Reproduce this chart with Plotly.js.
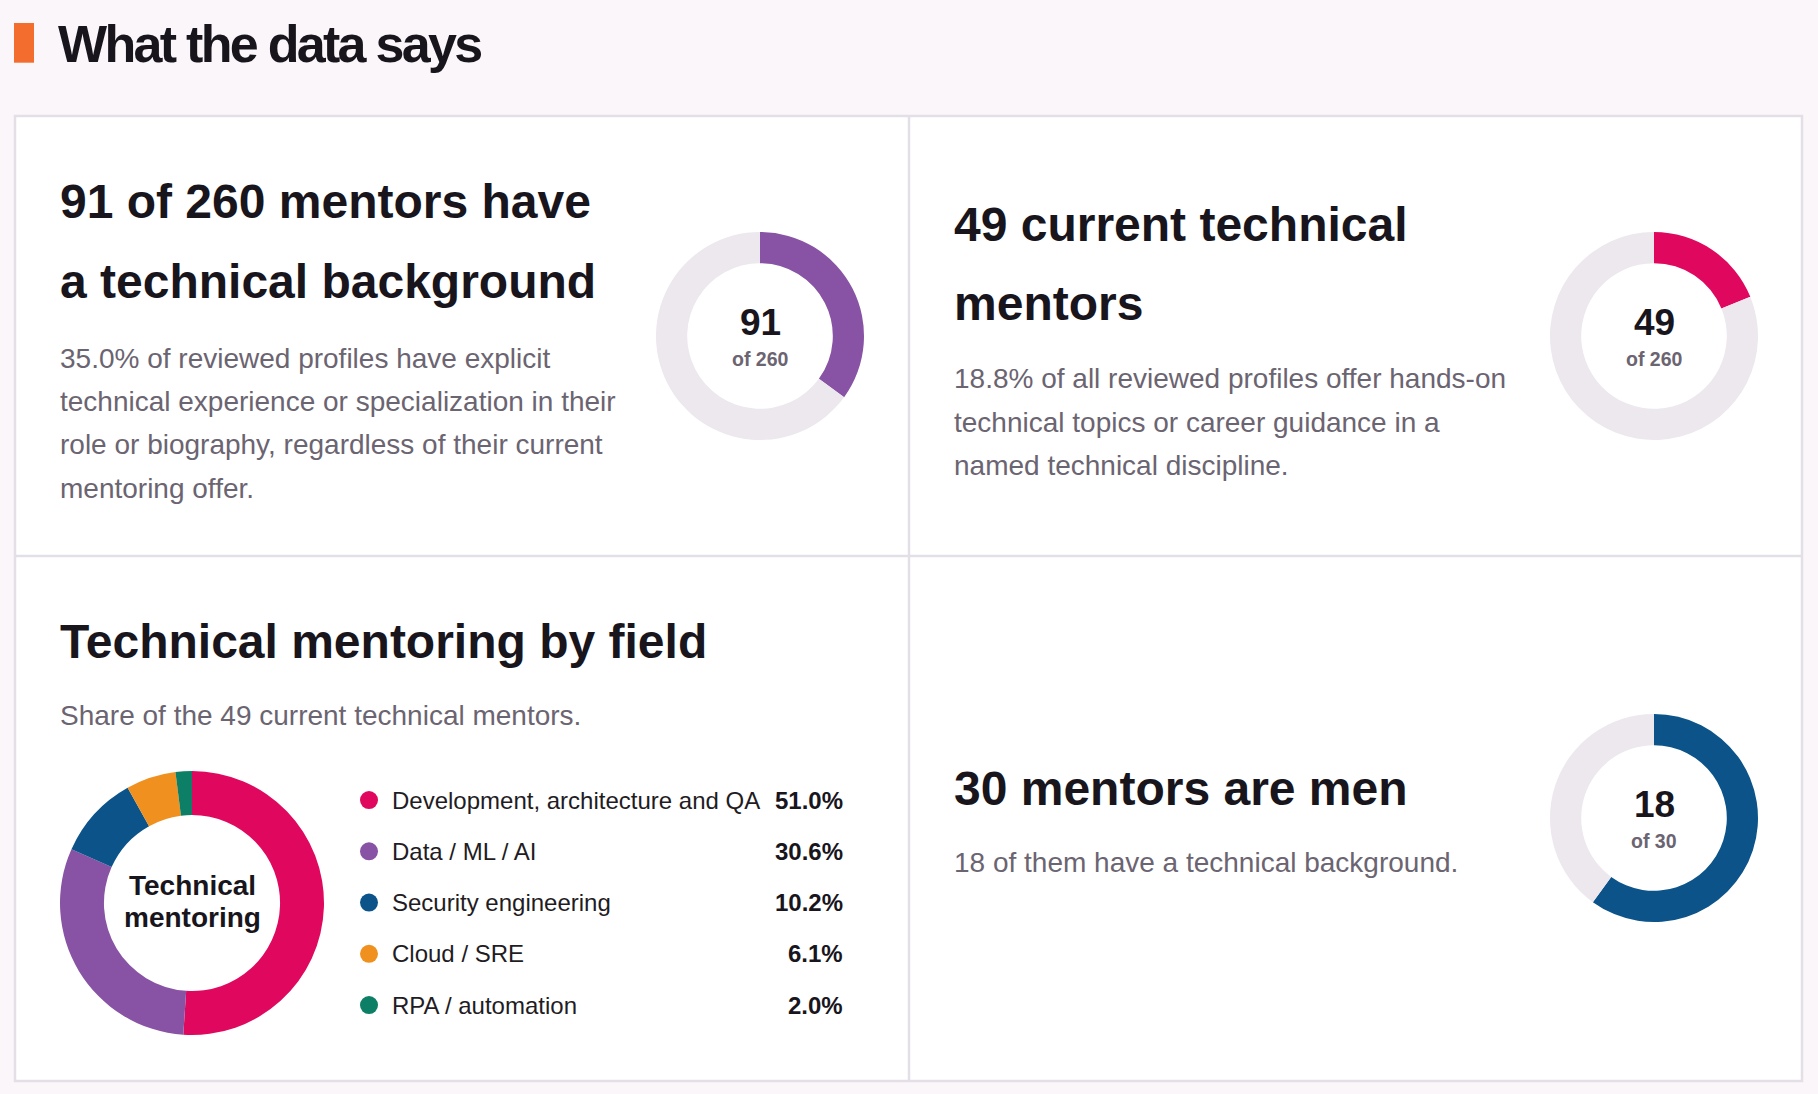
<!DOCTYPE html>
<html>
<head>
<meta charset="utf-8">
<script src="https://cdn.plot.ly/plotly-3.0.1.min.js"></script>
<style>
  html, body { margin: 0; padding: 0; background: #faf6f9; }
  #chart { width: 1818px; height: 1094px; }
</style>
</head>
<body>
<div id="chart"></div>
<script>
// ---- data ----
const sectionTitle = 'What the data says';

const ringLabels = ['Technical background', 'Current technical mentors', 'Men with technical background'];
const ringValues = [91, 49, 18];
const ringTotals = [260, 260, 30];
const ringColors = ['#8853a4', '#e0085e', '#0b5389'];

const fieldNames = ['Development, architecture and QA', 'Data / ML / AI', 'Security engineering', 'Cloud / SRE', 'RPA / automation'];
const fieldShares = [51.0, 30.6, 10.2, 6.1, 2.0];
const fieldColors = ['#e0085e', '#8853a4', '#0b5389', '#f0901f', '#0d7f66'];

const card1Head = ['91 of 260 mentors have', 'a technical background'];
const card1Body = ['35.0% of reviewed profiles have explicit',
                   'technical experience or specialization in their',
                   'role or biography, regardless of their current',
                   'mentoring offer.'];
const card2Head = ['49 current technical', 'mentors'];
const card2Body = ['18.8% of all reviewed profiles offer hands-on',
                   'technical topics or career guidance in a',
                   'named technical discipline.'];
const card3Head = 'Technical mentoring by field';
const card3Sub = 'Share of the 49 current technical mentors.';
const card3Center = ['Technical', 'mentoring'];
const card4Head = '30 mentors are men';
const card4Sub = '18 of them have a technical background.';

// ---- page geometry ----
const W = 1818, H = 1094;
const FONT = 'Liberation Sans, Arial, Helvetica, sans-serif';
const INK = '#18151d';
const GREY = '#6b6471';
const TRACK = '#ece8ee';
const LINE = '#e4dfe7';
const LEFT1 = 58, LEFT2 = 952;   // text column starts (annotation pad included)

function ringDomain(cx, cy, r){
  return {x: [(cx - r) / W, (cx + r) / W], y: [1 - (cy + r) / H, 1 - (cy - r) / H]};
}

function txt(x, y, text, size, color, bold, anchor){
  return {
    x: x, y: y, xref: 'x', yref: 'y',
    text: bold ? '<b>' + text + '</b>' : text,
    showarrow: false,
    xanchor: anchor || 'left', yanchor: 'middle',
    font: {family: FONT, size: size, color: color}
  };
}

// baseline -> middle of text box
function mid(baseline, size){ return baseline - 0.35 * size; }

const ringCenters = [[760, 336], [1654, 336], [1654, 818]];
const ringR = 104;

let data = [];
ringValues.forEach(function(v, i){
  data.push({
    type: 'pie',
    values: [v, ringTotals[i] - v],
    labels: [ringLabels[i], 'Other'],
    marker: {colors: [ringColors[i], TRACK], line: {width: 0}},
    hole: 0.70,
    sort: false,
    direction: 'clockwise',
    rotation: 0,
    textinfo: 'none',
    hoverinfo: 'skip',
    showlegend: false,
    domain: ringDomain(ringCenters[i][0], ringCenters[i][1], ringR)
  });
});

data.push({
  type: 'pie',
  values: fieldShares,
  labels: fieldNames,
  marker: {colors: fieldColors, line: {width: 0}},
  hole: 0.667,
  sort: false,
  direction: 'clockwise',
  rotation: 0,
  textinfo: 'none',
  hoverinfo: 'skip',
  showlegend: false,
  domain: ringDomain(192, 903, 132)
});

// legend dots on their own small category axis
const rowH = 51.25, legTop = 774.4;
data.push({
  type: 'scatter',
  mode: 'markers',
  x: fieldNames.map(function(){ return 19; }),
  y: fieldNames,
  xaxis: 'x2', yaxis: 'y2',
  marker: {size: 18, color: fieldColors},
  hoverinfo: 'skip',
  showlegend: false
});

let annotations = [];
// section title
annotations.push({
  x: 56, y: mid(61.7, 52), xref: 'x', yref: 'y',
  text: '<b><span style="letter-spacing:-2.7px">' + sectionTitle + '</span></b>',
  showarrow: false, xanchor: 'left', yanchor: 'middle',
  font: {family: FONT, size: 52, color: INK}
});

// card 1
annotations.push(txt(LEFT1, mid(218.6, 48), card1Head[0], 48, INK, true));
annotations.push(txt(LEFT1, mid(298, 48), card1Head[1], 48, INK, true));
card1Body.forEach(function(line, i){
  annotations.push(txt(LEFT1, mid(368 + i * 43.3, 28), line, 28, GREY, false));
});

// card 2
annotations.push(txt(LEFT2, mid(241, 48), card2Head[0], 48, INK, true));
annotations.push(txt(LEFT2, mid(320.7, 48), card2Head[1], 48, INK, true));
card2Body.forEach(function(line, i){
  annotations.push(txt(LEFT2, mid(388.6 + i * 43.3, 28), line, 28, GREY, false));
});

// card 3
annotations.push(txt(LEFT1, mid(658.4, 48), card3Head, 48, INK, true));
annotations.push(txt(LEFT1, mid(725.5, 28), card3Sub, 28, GREY, false));
annotations.push(txt(192, mid(895, 28), card3Center[0], 28, INK, true, 'center'));
annotations.push(txt(192, mid(927, 28), card3Center[1], 28, INK, true, 'center'));

// card 4
annotations.push(txt(LEFT2, mid(805.7, 48), card4Head, 48, INK, true));
annotations.push(txt(LEFT2, mid(872, 28), card4Sub, 28, GREY, false));

// ring centre numbers
ringValues.forEach(function(v, i){
  const c = ringCenters[i];
  annotations.push(txt(c[0], mid(c[1] - 1, 37), String(v), 37, INK, true, 'center'));
  annotations.push(txt(c[0], mid(c[1] + 30, 19.5), 'of ' + ringTotals[i], 19.5, GREY, true, 'center'));
});

// legend labels and shares
fieldNames.forEach(function(name, i){
  annotations.push({
    x: 40, y: i, xref: 'x2', yref: 'y2', text: name, showarrow: false,
    xanchor: 'left', yanchor: 'middle',
    font: {family: FONT, size: 24, color: '#1f1c24'}
  });
  annotations.push({
    x: 495, y: i, xref: 'x2', yref: 'y2', text: '<b>' + fieldShares[i].toFixed(1) + '%</b>', showarrow: false,
    xanchor: 'right', yanchor: 'middle',
    font: {family: FONT, size: 24, color: INK}
  });
});

let shapes = [
  {type: 'rect', xref: 'x', yref: 'y', x0: 14, x1: 34, y0: 23, y1: 62.7,
   fillcolor: '#f36d2f', line: {width: 0}, layer: 'below'},
  {type: 'rect', xref: 'x', yref: 'y', x0: 15, x1: 1802, y0: 116, y1: 1081,
   fillcolor: '#ffffff', line: {color: LINE, width: 2.5}, layer: 'below'},
  {type: 'line', xref: 'x', yref: 'y', x0: 909, x1: 909, y0: 116, y1: 1081,
   line: {color: LINE, width: 2.5}, layer: 'below'},
  {type: 'line', xref: 'x', yref: 'y', x0: 15, x1: 1802, y0: 556, y1: 556,
   line: {color: LINE, width: 2.5}, layer: 'below'}
];

let layout = {
  width: W,
  height: H,
  margin: {l: 0, r: 0, t: 0, b: 0, pad: 0},
  paper_bgcolor: '#faf6f9',
  plot_bgcolor: 'rgba(0,0,0,0)',
  showlegend: false,
  font: {family: FONT},
  xaxis: {range: [0, W], visible: false, fixedrange: true, domain: [0, 1]},
  yaxis: {range: [H, 0], visible: false, fixedrange: true, domain: [0, 1]},
  xaxis2: {range: [0, 510], domain: [350 / W, 860 / W], anchor: 'y2', visible: false, fixedrange: true},
  yaxis2: {type: 'category', range: [4.5, -0.5], anchor: 'x2', visible: false, fixedrange: true,
           domain: [1 - (legTop + 5 * rowH) / H, 1 - legTop / H]},
  shapes: shapes,
  annotations: annotations
};

Plotly.newPlot('chart', data, layout, {staticPlot: true, displayModeBar: false});
</script>
</body>
</html>
